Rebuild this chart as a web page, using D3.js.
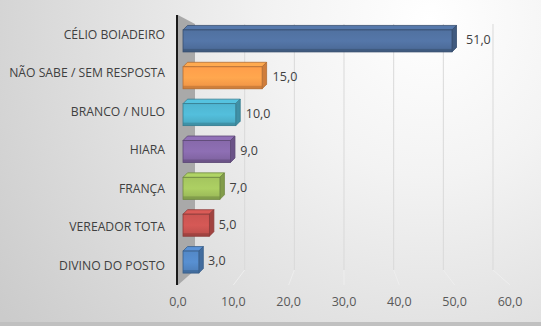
<!DOCTYPE html>
<html>
<head>
<meta charset="utf-8">
<script src="https://cdn.jsdelivr.net/npm/d3@7"></script>
<style>
  html, body { margin: 0; padding: 0; background: #d6d6d6; }
  svg { display: block; }
  text { font-family: "Open Sans", "Noto Sans", sans-serif; }
</style>
</head>
<body>
<svg id="chart" width="541" height="326"></svg>
<script>
// Survey results (percent), top to bottom
const categories = ["CÉLIO BOIADEIRO", "NÃO SABE / SEM RESPOSTA", "BRANCO / NULO", "HIARA", "FRANÇA", "VEREADOR TOTA", "DIVINO DO POSTO"];
const values = [51.0, 15.0, 10.0, 9.0, 7.0, 5.0, 3.0];
const barColors = ["#4c6b98", "#f79646", "#4bacc6", "#8064a2", "#9bbb59", "#c0504d", "#4f81bd"];
const tickValues = [0, 10, 20, 30, 40, 50, 60];

const W = 541, H = 326;
const svg = d3.select("#chart");
const defs = svg.append("defs");
const fmt = v => d3.format(".1f")(v).replace(".", ",");

// Background: soft radial light, darker at the edges
const bg = defs.append("radialGradient").attr("id", "bg")
  .attr("gradientUnits", "userSpaceOnUse")
  .attr("cx", 430).attr("cy", 20).attr("r", 520);
bg.append("stop").attr("offset", 0).attr("stop-color", "#ffffff");
bg.append("stop").attr("offset", 0.3).attr("stop-color", "#f3f3f3");
bg.append("stop").attr("offset", 1).attr("stop-color", "#cbcbcb");
svg.append("rect").attr("width", W).attr("height", H).attr("fill", "url(#bg)");
svg.append("rect").attr("y", 322).attr("width", W).attr("height", 4).attr("fill", "#c0c0c0");

// Perspective box: front plane and back wall
const front = { x0: 178, x1: 510, y0: 15, y1: 285 };
const back = { x0: 195, x1: 493, y0: 24, y1: 270 };
const xFront = d3.scaleLinear().domain([0, 60]).range([front.x0, front.x1]);
const xBack = d3.scaleLinear().domain([0, 60]).range([back.x0, back.x1]);
const xBar = d3.scaleLinear().domain([0, 51]).range([183, 452]);
const yLabel = d3.scaleBand().domain(categories).range([front.y0, front.y1]);
const yBar = d3.scaleBand().domain(categories).range([21.5, 279.5]);

// Left side wall
svg.append("path")
  .attr("d", `M${front.x0},${front.y0}L${back.x0},${back.y0}L${back.x0},${back.y1}L${front.x0},${front.y1}Z`)
  .attr("fill", "#a9a9a9");

// Gridlines on the back wall and across the floor
const grid = svg.append("g");
tickValues.filter(t => t > 0).forEach(t => {
  grid.append("line")
    .attr("x1", xBack(t)).attr("x2", xBack(t))
    .attr("y1", back.y0).attr("y2", back.y1)
    .attr("stroke", "#d9d9d9").attr("stroke-width", 1);
  grid.append("line")
    .attr("x1", xBack(t)).attr("y1", back.y1)
    .attr("x2", xFront(t)).attr("y2", front.y1)
    .attr("stroke", "#eeeeee").attr("stroke-width", 1);
});

// Vertical category axis line
svg.append("line")
  .attr("x1", front.x0 - 1).attr("x2", front.x0 - 1)
  .attr("y1", front.y0).attr("y2", front.y1)
  .attr("stroke", "#1a1a1a").attr("stroke-width", 2);

// 3D bars: front face, top face, end face
const dx = 4.5, dy = 4.5, faceH = 22;
const bars = svg.append("g");
categories.forEach((c, i) => {
  const col = d3.color(barColors[i]);
  const cy = yBar(c) + yBar.bandwidth() / 2 + 1;
  const x0 = xBar(0), x1 = xBar(values[i]);
  const top = cy - faceH / 2, bot = cy + faceH / 2;

  const g = defs.append("linearGradient").attr("id", "face" + i)
    .attr("x1", 0).attr("y1", 0).attr("x2", 0).attr("y2", 1);
  g.append("stop").attr("offset", 0).attr("stop-color", col.brighter(0.15));
  g.append("stop").attr("offset", 0.5).attr("stop-color", col.brighter(0.3));
  g.append("stop").attr("offset", 1).attr("stop-color", col.darker(0.1));

  const edge = col.darker(0.9);
  const grp = bars.append("g");
  // top face
  grp.append("path")
    .attr("d", `M${x0},${top}L${x0 + dx},${top - dy}L${x1 + dx},${top - dy}L${x1},${top}Z`)
    .attr("fill", col.brighter(0.35)).attr("stroke", edge).attr("stroke-width", 0.8);
  // end face
  grp.append("path")
    .attr("d", `M${x1},${top}L${x1 + dx},${top - dy}L${x1 + dx},${bot - dy}L${x1},${bot}Z`)
    .attr("fill", col.darker(0.5)).attr("stroke", edge).attr("stroke-width", 0.8);
  // front face
  grp.append("rect")
    .attr("x", x0).attr("y", top).attr("width", x1 - x0).attr("height", faceH)
    .attr("fill", `url(#face${i})`).attr("stroke", edge).attr("stroke-width", 0.8);
  // bottom shading strip
  grp.append("rect")
    .attr("x", x0).attr("y", bot - 3).attr("width", x1 - x0).attr("height", 3)
    .attr("fill", col.darker(0.9)).attr("opacity", 0.55);

  // value label
  svg.append("text")
    .attr("x", x1 + 9 + values[i] * 0.1).attr("y", cy - 1)
    .attr("dy", "0.35em")
    .attr("font-size", 12.5).attr("fill", "#404040")
    .text(fmt(values[i]));
});

// Category labels
svg.append("g").selectAll("text").data(categories).join("text")
  .attr("x", 165).attr("y", d => yLabel(d) + yLabel.bandwidth() / 2)
  .attr("dy", "0.35em").attr("text-anchor", "end")
  .attr("font-size", 12.2).attr("fill", "#404040")
  .text(d => d);

// Value axis tick labels
svg.append("g").selectAll("text").data(tickValues).join("text")
  .attr("x", d => xFront(d)).attr("y", 302)
  .attr("dy", "0.35em").attr("text-anchor", "middle")
  .attr("font-size", 12.5).attr("fill", "#595959")
  .text(fmt);
</script>
</body>
</html>
